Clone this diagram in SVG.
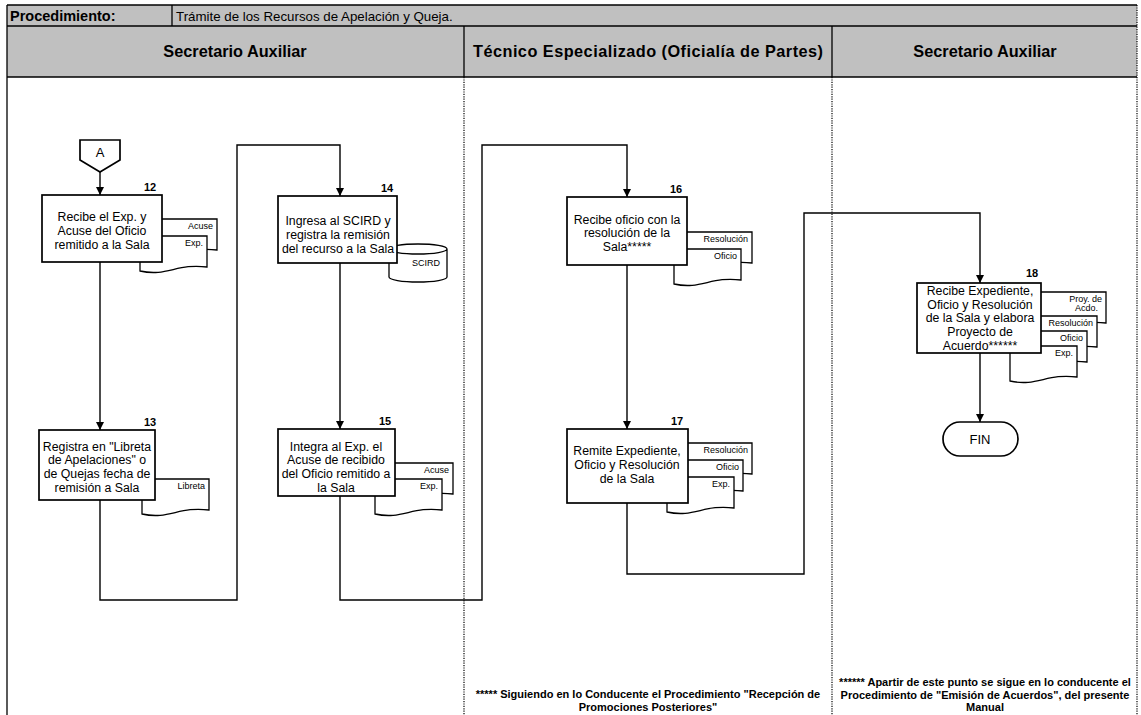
<svg xmlns="http://www.w3.org/2000/svg" xmlns:xlink="http://www.w3.org/1999/xlink" width="1141" height="715" viewBox="0 0 1141 715">
  <style>
    .sep { stroke:#000; stroke-width:1.3 }
    .dot { stroke:#000; stroke-width:1.2; stroke-dasharray:1.2 1.2 }
    .box { fill:#fff; stroke:#000; stroke-width:1.7 }
    .doc { fill:#fff; stroke:#000; stroke-width:1.3 }
    .conn { fill:none; stroke:#000; stroke-width:1.4 }
    text { font-family:"Liberation Sans", Arial, sans-serif; fill:#000 }
    .t { font-size:12.3px; text-anchor:middle }
    .num { font-size:11px; font-weight:bold; text-anchor:middle }
    .dl { font-size:9px; text-anchor:end }
    .lane { font-size:16.3px; font-weight:bold; text-anchor:middle }
    .note { font-size:11px; font-weight:bold; text-anchor:middle }
  </style>
  <defs>
    <path id="docShape" d="M0,0 H67 V31 C37,27 27,41 0,35 Z"/>
    <marker id="arr" viewBox="0 0 10 10" refX="10" refY="5" markerWidth="8" markerHeight="9" markerUnits="userSpaceOnUse" orient="auto">
      <path d="M0,0 L10,5 L0,10 Z" fill="#000"/>
    </marker>
  </defs>

  <!-- header -->
  <g id="header">
    <rect x="7" y="5" width="1130" height="72" fill="#c0c0c0"/>
    <line class="sep" x1="7" y1="5" x2="1137" y2="5"/>
    <line class="sep" x1="7" y1="26" x2="1137" y2="26"/>
    <line class="sep" x1="7" y1="77" x2="1137" y2="77"/>
    <line class="sep" x1="172" y1="5" x2="172" y2="26"/>
    <line class="sep" x1="464" y1="26" x2="464" y2="77"/>
    <line class="sep" x1="832" y1="26" x2="832" y2="77"/>
    <text x="10" y="21" style="font-size:14.5px;font-weight:bold">Procedimiento:</text>
    <text x="176" y="21" style="font-size:13.3px">Trámite de los Recursos de Apelación y Queja.</text>
    <text class="lane" x="235" y="57">Secretario Auxiliar</text>
    <text class="lane" x="648" y="57" textLength="350" lengthAdjust="spacing">Técnico Especializado (Oficialía de Partes)</text>
    <text class="lane" x="985" y="57">Secretario Auxiliar</text>
  </g>

  <!-- lane borders -->
  <g id="lanes">
    <line class="sep" x1="7" y1="5" x2="7" y2="715"/>
    <line class="dot" x1="464" y1="77" x2="464" y2="715"/>
    <line class="dot" x1="832" y1="77" x2="832" y2="715"/>
    <line class="dot" x1="1137" y1="5" x2="1137" y2="715"/>
  </g>

  <!-- connectors -->
  <g id="connectors" class="conn" marker-end="url(#arr)">
    <path d="M100,172 V195"/>
    <path d="M100,262 V430"/>
    <path d="M100,500 V600 H237 V145 H340 V196"/>
    <path d="M340,263 V429"/>
    <path d="M340,496 V600 H482 V145 H627 V197"/>
    <path d="M627,265 V429"/>
    <path d="M627,503 V574 H804 V213 H980 V283"/>
    <path d="M980,353 V422"/>
  </g>

  <!-- off-page connector A -->
  <g id="connA">
    <polygon class="box" points="80,140 120,140 120,160 100,172 80,160"/>
    <text x="100" y="157" style="font-size:13px;text-anchor:middle">A</text>
  </g>

  <!-- step 12 -->
  <g id="step12">
    <use xlink:href="#docShape" class="doc" x="150" y="219"/>
    <text class="dl" x="213" y="229">Acuse</text>
    <use xlink:href="#docShape" class="doc" x="140" y="236"/>
    <text class="dl" x="203" y="246">Exp.</text>
    <rect class="box" x="42" y="195" width="120" height="67"/>
    <text class="num" x="150" y="191">12</text>
    <text class="t" x="102" y="221">Recibe el Exp. y</text>
    <text class="t" x="102" y="234.8">Acuse del Oficio</text>
    <text class="t" x="102" y="248.6">remitido a la Sala</text>
  </g>

  <!-- step 13 -->
  <g id="step13">
    <use xlink:href="#docShape" class="doc" x="142" y="479"/>
    <text class="dl" x="205" y="489">Libreta</text>
    <rect class="box" x="39" y="430" width="116" height="70"/>
    <text class="num" x="150" y="426">13</text>
    <text class="t" x="97" y="450.5">Registra en "Libreta</text>
    <text class="t" x="97" y="464.3">de Apelaciones" o</text>
    <text class="t" x="97" y="478.1">de Quejas fecha de</text>
    <text class="t" x="97" y="491.9">remisión a Sala</text>
  </g>

  <!-- step 14 -->
  <g id="step14">
    <path class="doc" d="M389,249 V277 A29,5 0 0 0 447,277 V249 A29,5 0 0 0 389,249 A29,5 0 0 0 447,249"/>
    <text class="dl" x="440" y="266">SCIRD</text>
    <rect class="box" x="278" y="196" width="119" height="67"/>
    <text class="num" x="387" y="192">14</text>
    <text class="t" x="338" y="225">Ingresa al SCIRD y</text>
    <text class="t" x="338" y="238.8">registra la remisión</text>
    <text class="t" x="338" y="252.6">del recurso a la Sala</text>
  </g>

  <!-- step 15 -->
  <g id="step15">
    <use xlink:href="#docShape" class="doc" x="386" y="463"/>
    <text class="dl" x="449" y="473">Acuse</text>
    <use xlink:href="#docShape" class="doc" x="375" y="479"/>
    <text class="dl" x="438" y="489">Exp.</text>
    <rect class="box" x="278" y="429" width="117" height="67"/>
    <text class="num" x="385" y="425">15</text>
    <text class="t" x="336" y="450.5">Integra al Exp. el</text>
    <text class="t" x="336" y="464.3">Acuse de recibido</text>
    <text class="t" x="336" y="478.1">del Oficio remitido a</text>
    <text class="t" x="336" y="491.9">la Sala</text>
  </g>

  <!-- step 16 -->
  <g id="step16">
    <use xlink:href="#docShape" class="doc" x="685" y="232"/>
    <text class="dl" x="748" y="242">Resolución</text>
    <use xlink:href="#docShape" class="doc" x="674" y="249"/>
    <text class="dl" x="737" y="259">Oficio</text>
    <rect class="box" x="567" y="197" width="120" height="68"/>
    <text class="num" x="676" y="193">16</text>
    <text class="t" x="627" y="223.5">Recibe oficio con la</text>
    <text class="t" x="627" y="237.3">resolución de la</text>
    <text class="t" x="627" y="251.1">Sala*****</text>
  </g>

  <!-- step 17 -->
  <g id="step17">
    <use xlink:href="#docShape" class="doc" x="685" y="443"/>
    <text class="dl" x="748" y="453">Resolución</text>
    <use xlink:href="#docShape" class="doc" x="676" y="460"/>
    <text class="dl" x="739" y="470">Oficio</text>
    <use xlink:href="#docShape" class="doc" x="667" y="477"/>
    <text class="dl" x="730" y="487">Exp.</text>
    <rect class="box" x="567" y="429" width="121" height="74"/>
    <text class="num" x="677" y="425">17</text>
    <text class="t" x="627" y="455">Remite Expediente,</text>
    <text class="t" x="627" y="468.8">Oficio y Resolución</text>
    <text class="t" x="627" y="482.6">de la Sala</text>
  </g>

  <!-- step 18 -->
  <g id="step18">
    <use xlink:href="#docShape" class="doc" x="1039" y="292"/>
    <text class="dl" x="1102" y="302">Proy. de</text>
    <text class="dl" x="1098" y="311">Acdo.</text>
    <use xlink:href="#docShape" class="doc" x="1030" y="316"/>
    <text class="dl" x="1093" y="326">Resolución</text>
    <use xlink:href="#docShape" class="doc" x="1020" y="331"/>
    <text class="dl" x="1083" y="341">Oficio</text>
    <use xlink:href="#docShape" class="doc" x="1010" y="346"/>
    <text class="dl" x="1073" y="356">Exp.</text>
    <rect class="box" x="917" y="283" width="124" height="70"/>
    <text class="num" x="1032" y="277">18</text>
    <text class="t" x="980" y="294.8">Recibe Expediente,</text>
    <text class="t" x="980" y="308.6">Oficio y Resolución</text>
    <text class="t" x="980" y="322.4">de la Sala y elabora</text>
    <text class="t" x="980" y="336.2">Proyecto de</text>
    <text class="t" x="980" y="350">Acuerdo******</text>
  </g>

  <!-- end terminator -->
  <g id="fin">
    <rect class="box" x="943" y="422" width="75" height="34" rx="17" ry="17"/>
    <text x="980" y="444" style="font-size:13px;text-anchor:middle">FIN</text>
  </g>

  <!-- footnotes -->
  <g id="notes">
    <text class="note" x="648" y="698">***** Siguiendo en lo Conducente el Procedimiento "Recepción de</text>
    <text class="note" x="648" y="710.5">Promociones Posteriores"</text>
    <text class="note" x="985" y="686">****** Apartir de este punto se sigue en lo conducente el</text>
    <text class="note" x="985" y="698.5">Procedimiento de "Emisión de Acuerdos", del presente</text>
    <text class="note" x="985" y="711">Manual</text>
  </g>
</svg>
